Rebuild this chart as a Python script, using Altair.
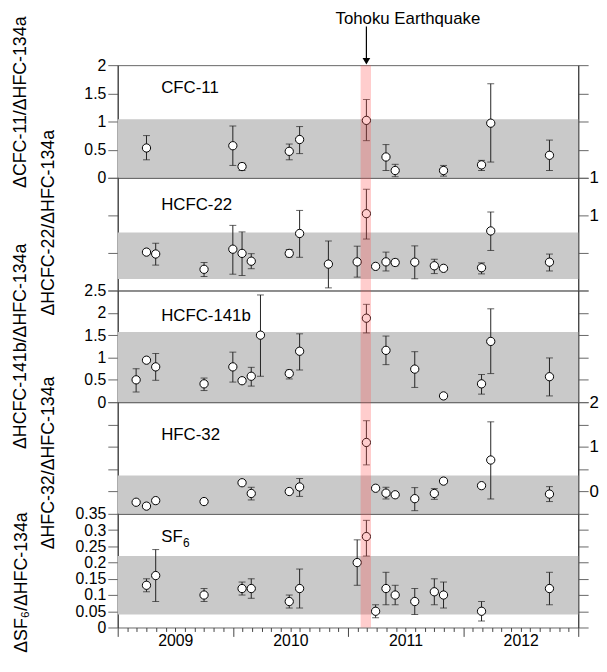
import altair as alt
import pandas as pd

FONT = "Liberation Sans"
W = 466
HEIGHTS = [114, 114, 113, 113, 115]

# Tohoku earthquake marker (decimal year)
quake_start, quake_end, quake_mark = 2011.11, 2011.20, 2011.16
quake_label = "Tohoku Earthquake"

# CFC-11
cfc11_t = [2009.25, 2010.00, 2010.08, 2010.49, 2010.58, 2011.16, 2011.33, 2011.41, 2011.83, 2012.16, 2012.24, 2012.75]
cfc11_v = [0.53, 0.57, 0.20, 0.47, 0.68, 1.02, 0.37, 0.13, 0.13, 0.23, 0.97, 0.40]
cfc11_lo = [0.32, 0.22, 0.13, 0.32, 0.43, 0.66, 0.13, 0.02, 0.03, 0.13, 0.28, 0.13]
cfc11_hi = [0.75, 0.92, 0.26, 0.60, 0.91, 1.39, 0.59, 0.24, 0.22, 0.31, 1.67, 0.67]
cfc11_band = [0.0, 1.04]

# HCFC-22
hcfc22_t = [2009.25, 2009.33, 2009.75, 2010.00, 2010.08, 2010.16, 2010.49, 2010.58, 2010.83, 2011.08,
            2011.16, 2011.24, 2011.33, 2011.41, 2011.58, 2011.75, 2011.83, 2012.16, 2012.24, 2012.75]
hcfc22_v = [5.11, 4.86, 2.82, 5.50, 4.94, 3.90, 4.94, 7.59, 3.51, 3.81,
            10.23, 3.21, 3.81, 3.73, 3.77, 3.29, 2.95, 3.03, 7.93, 3.77]
hcfc22_lo = [5.00, 3.38, 1.86, 2.17, 2.00, 2.90, 4.46, 4.42, 0.35, 1.78,
             6.85, 3.10, 2.60, 3.29, 1.56, 2.25, 2.85, 2.21, 5.33, 2.60]
hcfc22_hi = [5.20, 6.29, 3.73, 8.67, 7.80, 4.90, 5.46, 10.66, 6.59, 5.90,
             13.48, 3.30, 5.11, 4.16, 5.94, 4.16, 3.05, 3.68, 10.45, 4.85]
hcfc22_band = [1.52, 7.72]

# HCFC-141b
hcfc141b_t = [2009.16, 2009.25, 2009.33, 2009.75, 2010.00, 2010.08, 2010.16, 2010.24, 2010.49, 2010.58,
              2011.16, 2011.33, 2011.58, 2011.83, 2012.16, 2012.24, 2012.75]
hcfc141b_v = [0.50, 0.94, 0.79, 0.41, 0.79, 0.48, 0.58, 1.50, 0.64, 1.14,
              1.88, 1.16, 0.74, 0.14, 0.41, 1.36, 0.57]
hcfc141b_lo = [0.23, 0.92, 0.49, 0.26, 0.45, 0.46, 0.36, 0.58, 0.52, 0.72,
               1.55, 0.84, 0.33, 0.12, 0.18, 0.64, 0.14]
hcfc141b_hi = [0.75, 0.96, 1.09, 0.54, 1.12, 0.50, 0.78, 2.40, 0.72, 1.53,
               2.19, 1.48, 1.13, 0.16, 0.62, 2.09, 0.99]
hcfc141b_band = [0.0, 1.57]

# HFC-32
hfc32_t = [2009.16, 2009.25, 2009.33, 2009.75, 2010.08, 2010.16, 2010.49, 2010.58, 2011.16, 2011.24,
           2011.33, 2011.41, 2011.58, 2011.75, 2011.83, 2012.16, 2012.24, 2012.75]
hfc32_v = [-2.40, -3.27, -2.04, -2.25, 1.96, -0.44, 0.00, 1.02, 10.98, 0.73,
           -0.36, -0.73, -1.60, -0.44, 2.33, 1.31, 7.05, -0.58]
hfc32_lo = [-2.70, -3.50, -2.30, -2.50, 1.70, -1.89, -0.25, -1.09, 5.96, 0.50,
            -1.67, -1.00, -4.29, -1.75, 2.10, 1.05, -1.67, -2.25]
hfc32_hi = [-2.10, -3.00, -1.75, -2.00, 2.20, 0.95, 0.25, 2.91, 15.85, 0.95,
            0.95, -0.45, 0.87, 0.65, 2.55, 1.55, 15.60, 1.09]
hfc32_band = [-5.0, 3.56]

# SF6
sf6_t = [2009.25, 2009.33, 2009.75, 2010.08, 2010.16, 2010.49, 2010.58, 2011.08, 2011.16, 2011.24,
         2011.33, 2011.41, 2011.58, 2011.75, 2011.83, 2012.16, 2012.75]
sf6_v = [0.13, 0.16, 0.10, 0.12, 0.12, 0.08, 0.12, 0.20, 0.28, 0.05,
         0.12, 0.10, 0.08, 0.11, 0.10, 0.05, 0.12]
sf6_lo = [0.11, 0.08, 0.08, 0.10, 0.09, 0.06, 0.06, 0.13, 0.22, 0.03,
          0.07, 0.07, 0.04, 0.07, 0.06, 0.02, 0.07]
sf6_hi = [0.15, 0.24, 0.12, 0.14, 0.15, 0.10, 0.18, 0.27, 0.33, 0.07,
          0.17, 0.13, 0.12, 0.15, 0.14, 0.08, 0.17]
sf6_band = [0.04, 0.22]

month_ticks = [round(2009 + i / 12, 6) for i in range(49)]


def xenc(field, bottom):
    if bottom:
        axis = alt.Axis(
            values=month_ticks,
            labelExpr="(round(datum.value*12) % 12 == 6) ? ('' + floor(datum.value)) : ''",
            tickSize={"condition": {"test": "round(datum.value*12) % 12 == 0", "value": 9}, "value": 4},
            labelOverlap=False, labelFlush=False, grid=False, domain=False, title=None,
            labelFontSize=16, labelPadding=1, tickColor="#444",
        )
    else:
        axis = None
    return alt.X(field, scale=alt.Scale(domain=[2009, 2013], nice=False, zero=False), axis=axis)


def make_panel(i, ts, vs, los, his, band, ydom, yticks, left_labels, right_expr,
               ytitle, tx, ty, label, lab_y, bottom=False, top=False, sub=None):
    H = HEIGHTS[i]
    df = pd.DataFrame({"t": ts, "v": vs, "lo": los, "hi": his})
    yscale = alt.Scale(domain=ydom, nice=False, zero=False)

    if right_expr is None:
        raxis = alt.Axis(orient="right", values=yticks, labels=False, title=None, tickSize=10,
                         grid=False)
    else:
        raxis = alt.Axis(orient="right", values=yticks, labelExpr=right_expr, title=None,
                         tickSize=10, labelPadding=1, grid=False, labelOverlap=False, labelFontSize=17)
    laxis = alt.Axis(orient="left", values=yticks, labels=left_labels, title=ytitle, format="~g",
                     tickSize=10, labelPadding=2, grid=False, labelOverlap=False,
                     titleX=tx, titleY=ty, titleAngle=270, titleAlign="center",
                     titleBaseline="middle", labelFontSize=16)

    band_df = pd.DataFrame({"blo": [band[0]], "bhi": [band[1]]})
    band_layer = alt.Chart(band_df).mark_rect(color="#c9c9c9").encode(
        x=alt.value(0), x2=alt.value(W),
        y=alt.Y("blo:Q", scale=yscale, axis=raxis), y2="bhi:Q")

    err_layer = alt.Chart(df).mark_errorbar(ticks=True, size=7, thickness=1, color="#222").encode(
        x=xenc("t:Q", bottom), y=alt.Y("lo:Q", scale=yscale, axis=None), y2="hi:Q")

    pt_layer = alt.Chart(df).mark_point(filled=True, fill="white", stroke="black", strokeWidth=1,
                                        size=70, opacity=1, shape="circle").encode(
        x=xenc("t:Q", bottom), y=alt.Y("v:Q", scale=yscale, axis=laxis))

    q_df = pd.DataFrame({"t": [quake_start], "t2": [quake_end]})
    quake_layer = alt.Chart(q_df).mark_rect(color="#ff4d4d", opacity=0.28).encode(
        x=xenc("t:Q", bottom), x2="t2:Q", y=alt.value(0), y2=alt.value(H))

    lab_layer = alt.Chart(pd.DataFrame({"label": [label]})).mark_text(
        align="left", baseline="alphabetic", fontSize=17, font=FONT, color="black").encode(
        x=alt.value(44), y=alt.value(lab_y), text="label:N")

    layers = [band_layer, err_layer, pt_layer, quake_layer, lab_layer]

    if sub is not None:
        sub_layer = alt.Chart(pd.DataFrame({"s": [sub]})).mark_text(
            align="left", baseline="alphabetic", fontSize=12, font=FONT, color="black").encode(
            x=alt.value(66), y=alt.value(lab_y + 6), text="s:N")
        layers.append(sub_layer)

    if top:
        a_df = pd.DataFrame({"t": [quake_mark], "label": [quake_label]})
        ann_text = alt.Chart(a_df).mark_text(align="center", baseline="top", fontSize=17,
                                             font=FONT, color="black", dx=42).encode(
            x=xenc("t:Q", False), y=alt.value(-55), text="label:N")
        ann_rule = alt.Chart(a_df).mark_rule(color="black", strokeWidth=1.2).encode(
            x=xenc("t:Q", False), y=alt.value(-39), y2=alt.value(-7))
        ann_head = alt.Chart(a_df).mark_point(shape="triangle-down", filled=True, color="black",
                                              size=60, opacity=1).encode(
            x=xenc("t:Q", False), y=alt.value(-4))
        layers += [ann_rule, ann_head, ann_text]

    return alt.layer(*layers).properties(width=W, height=H).resolve_axis(y="independent")


p1 = make_panel(0, cfc11_t, cfc11_v, cfc11_lo, cfc11_hi, cfc11_band, [0, 2],
                [0, 0.5, 1, 1.5, 2], True, None,
                "ΔCFC-11/ΔHFC-134a", -98, 37, "CFC-11", 28, top=True)
p2 = make_panel(1, hcfc22_t, hcfc22_v, hcfc22_lo, hcfc22_hi, hcfc22_band, [0, 15],
                [0, 5, 10, 15], False, "datum.value >= 10 ? '1' : ''",
                "ΔHCFC-22/ΔHFC-134a", -70, 45, "HCFC-22", 33)
p3 = make_panel(2, hcfc141b_t, hcfc141b_v, hcfc141b_lo, hcfc141b_hi, hcfc141b_band, [0, 2.5],
                [0, 0.5, 1, 1.5, 2, 2.5], True, None,
                "ΔHCFC-141b/ΔHFC-134a", -98, 56, "HCFC-141b", 31)
p4 = make_panel(3, hfc32_t, hfc32_v, hfc32_lo, hfc32_hi, hfc32_band, [-5, 20],
                [0, 5, 10, 15, 20], False,
                "datum.value == 20 ? '2' : (datum.value == 10 ? '1' : (datum.value == 0 ? '0' : ''))",
                "ΔHFC-32/ΔHFC-134a", -70, 61, "HFC-32", 38)
p5 = make_panel(4, sf6_t, sf6_v, sf6_lo, sf6_hi, sf6_band, [0, 0.35],
                [0, 0.05, 0.1, 0.15, 0.2, 0.25, 0.3, 0.35], True, None,
                "ΔSF₆/ΔHFC-134a", -97, 69, "SF", 28, bottom=True, sub="6")

base = alt.vconcat(p1, p2, p3, p4, p5, spacing=0, bounds="flush").resolve_scale(
    x="independent", y="independent"
)


def finish(pad):
    return base.configure(
        font=FONT, padding=pad
    ).configure_view(
        stroke="#666", strokeWidth=1
    ).configure_axis(
        domainColor="#333", tickColor="#666", labelColor="black", titleColor="black",
        titleFontWeight="normal", titleFontSize=18, labelFont=FONT, titleFont=FONT
    )


chart = finish({"left": 3, "top": -3, "right": 0, "bottom": -2})
try:
    chart.to_dict()
except Exception:
    chart = finish({"left": 3, "top": 0, "right": 0, "bottom": 0})

chart.save("out.html", embed_options={"renderer": "svg", "actions": False})
